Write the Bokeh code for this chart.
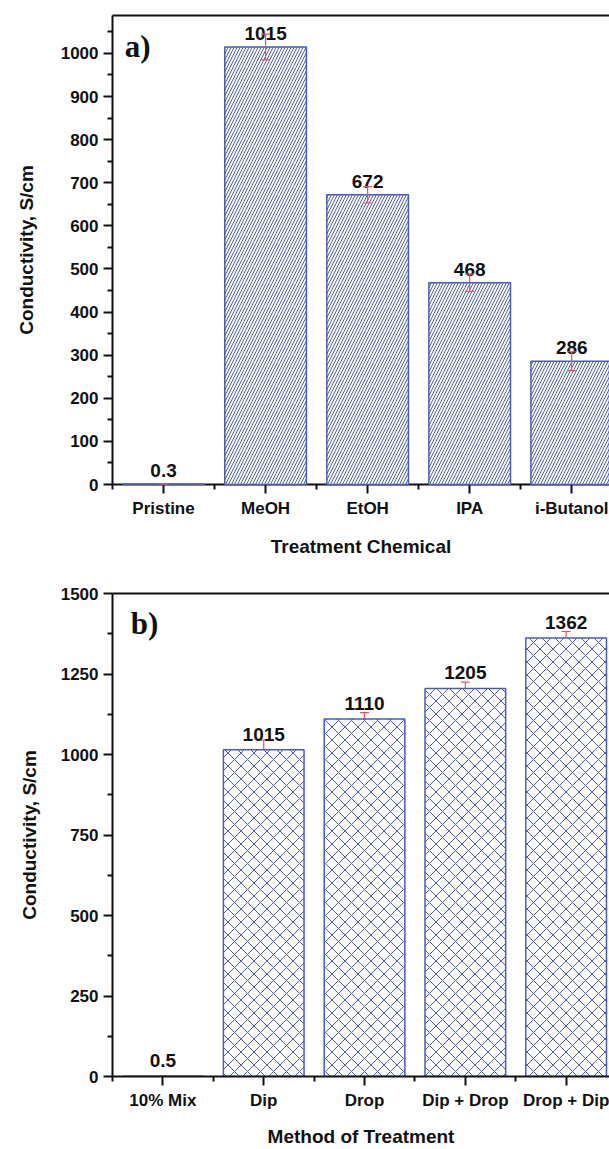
from bokeh.plotting import figure
from bokeh.models import (ColumnDataSource, FixedTicker, LinearAxis, Range1d,
                          Whisker, LabelSet, Label, TeeHead)
from bokeh.layouts import column
from bokeh.core.properties import value
from bokeh.embed import file_html
from bokeh.resources import INLINE

# ---- data ----
chem_labels = ["Pristine", "MeOH", "EtOH", "IPA", "i-Butanol"]
chem_values = [0.3, 1015, 672, 468, 286]
chem_errors = [0.5, 30, 19, 20, 22]
chem_text = ["0.3", "1015", "672", "468", "286"]

method_labels = ["10% Mix", "Dip", "Drop", "Dip + Drop", "Drop + Dip"]
method_values = [0.5, 1015, 1110, 1205, 1362]
method_errors = [0, 30, 20, 20, 20]
method_text = ["0.5", "1015", "1110", "1205", "1362"]

a_yticks = list(range(0, 1001, 100))
a_yminor = list(range(50, 1100, 100))
b_yticks = [0, 250, 500, 750, 1000, 1250, 1500]
b_yminor = [125, 375, 625, 875, 1125, 1375]

YTITLE = "Conductivity, S/cm"
BLUE = "#4a5bbd"
RED = "#ee4f5c"
FONT = "Liberation Sans"


def panel(labels, values, errors, texts, yr, yticks, yminor, xend, hatch, hscale,
          letter, letter_xy, xtitle, height, top_b, bot_b, left_b, ytitle_standoff,
          label_off, err_level, bar_level, xtitle_standoff):
    n = len(labels)
    xs = list(range(1, n + 1))
    src = ColumnDataSource(dict(
        x=xs, top=values, txt=texts,
        upper=[v + e for v, e in zip(values, errors)],
        lower=[max(v - e, 0) for v, e in zip(values, errors)],
    ))
    p = figure(width=609, height=height, output_backend="svg", toolbar_location=None,
               x_range=Range1d(0.5, xend), y_range=Range1d(*yr),
               min_border_left=left_b, min_border_right=0,
               min_border_top=top_b, min_border_bottom=bot_b)
    p.outline_line_color = None
    p.grid.visible = False
    p.background_fill_color = "white"
    p.border_fill_color = "white"

    p.vbar(x="x", top="top", bottom=0, width=0.8, source=src,
           fill_color="white", line_color=BLUE, line_width=1.5,
           hatch_pattern=hatch, hatch_color=BLUE, hatch_scale=hscale,
           hatch_weight=1, level=bar_level)

    wh = Whisker(base="x", upper="upper", lower="lower", source=src,
                 line_color=RED, line_width=1.2, level=err_level,
                 upper_head=TeeHead(size=9, line_color=RED, line_width=1.2),
                 lower_head=TeeHead(size=9, line_color=RED, line_width=1.2))
    p.add_layout(wh)

    ls = LabelSet(x="x", y="top", text="txt", source=src, y_offset=label_off,
                  text_align="center", text_baseline="bottom",
                  text_font=value(FONT), text_font_style="bold",
                  text_font_size="19px", text_color="#111111")
    p.add_layout(ls)

    p.add_layout(Label(x=letter_xy[0], y=letter_xy[1], text=letter,
                       text_font="Liberation Serif", text_font_style="bold",
                       text_font_size="31px", text_baseline="middle",
                       text_color="#111111"))

    for ax in (p.xaxis[0], p.yaxis[0]):
        ax.axis_line_width = 2
        ax.axis_line_color = "#111111"
        ax.major_tick_line_width = 2
        ax.minor_tick_line_width = 2
        ax.major_tick_line_color = "#111111"
        ax.minor_tick_line_color = "#111111"
        ax.major_tick_in = 0
        ax.minor_tick_in = 0
        ax.major_tick_out = 9
        ax.minor_tick_out = 5
        ax.major_label_text_font = FONT
        ax.major_label_text_font_style = "bold"
        ax.major_label_text_font_size = "17px"
        ax.major_label_text_color = "#111111"
        ax.major_label_standoff = 5
        ax.axis_label_text_font = FONT
        ax.axis_label_text_font_style = "bold"
        ax.axis_label_text_font_size = "19px"
        ax.axis_label_text_color = "#111111"

    p.xaxis.ticker = FixedTicker(ticks=xs, minor_ticks=[x - 0.5 for x in xs] + [n + 0.5])
    p.xaxis.major_label_overrides = {x: lab for x, lab in zip(xs, labels)}
    p.xaxis.axis_label = xtitle
    p.xaxis.axis_label_standoff = xtitle_standoff

    p.yaxis.ticker = FixedTicker(ticks=yticks, minor_ticks=yminor)
    p.yaxis.axis_label = YTITLE
    p.yaxis.axis_label_standoff = ytitle_standoff

    top = LinearAxis(ticker=FixedTicker(ticks=[]), major_label_text_font_size="0px",
                     major_tick_out=0, minor_tick_out=0, major_tick_in=0, minor_tick_in=0,
                     major_label_standoff=0, axis_line_width=2, axis_line_color="#111111")
    p.add_layout(top, "above")
    return p


pa = panel(chem_labels, chem_values, chem_errors, chem_text, (0, 1088),
           a_yticks, a_yminor, 5.37, "/", 6, "a)", (0.62, 1016),
           "Treatment Chemical", 564, 15, 80, 112, 21, 7, "overlay", "overlay", 15)

pb = panel(method_labels, method_values, method_errors, method_text, (0, 1500),
           b_yticks, b_yminor, 5.43, "x", 13, "b)", (0.68, 1407),
           "Method of Treatment", 585, 29, 73, 96, 18, 9, "underlay", "glyph", 13)

layout = column(pa, pb, spacing=0)
open("out.html", "w").write(file_html(layout, INLINE))
